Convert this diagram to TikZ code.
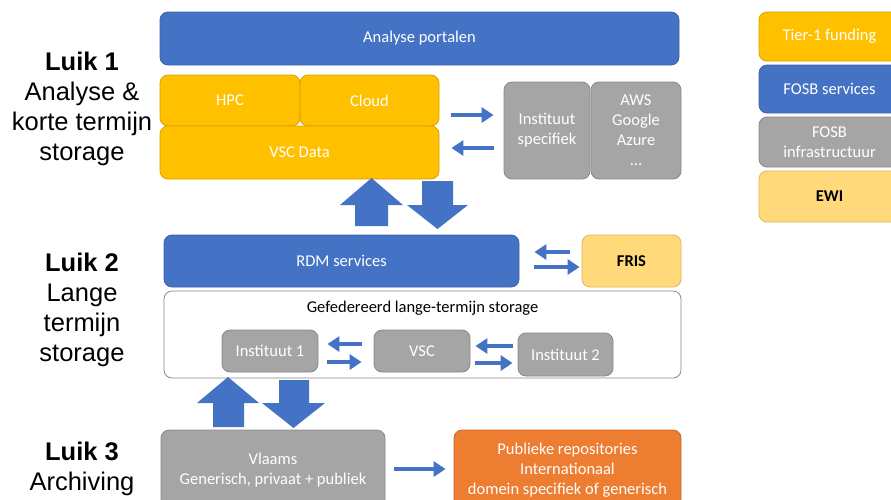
\documentclass[tikz,border=0pt]{standalone}
\usepackage{fontspec}
\setmainfont{Carlito}
\newfontfamily\luikfont{Liberation Sans}
\usetikzlibrary{arrows.meta}

\definecolor{fosbblue}{HTML}{4472C4}
\definecolor{fosbblueD}{HTML}{3A63AD}
\definecolor{tieryellow}{HTML}{FFC000}
\definecolor{tieryellowD}{HTML}{D9A300}
\definecolor{infragray}{HTML}{A5A5A5}
\definecolor{infragrayD}{HTML}{8A8A8A}
\definecolor{ewilight}{HTML}{FFD97A}
\definecolor{ewilightD}{HTML}{DDB65A}
\definecolor{repoorange}{HTML}{ED7D31}
\definecolor{repoorangeD}{HTML}{C9672A}

\tikzset{
  box/.style={rounded corners=8pt, line width=0.8pt, align=center, inner sep=0pt,
    font=\fontsize{16.5}{20}\selectfont, text=white},
  bluebox/.style={box, fill=fosbblue, draw=fosbblueD},
  yellowbox/.style={box, fill=tieryellow, draw=tieryellowD},
  graybox/.style={box, fill=infragray, draw=infragrayD},
  lightbox/.style={box, fill=ewilight, draw=ewilightD, text=black, font=\fontsize{16.5}{20}\selectfont\bfseries},
  orangebox/.style={box, fill=repoorange, draw=repoorangeD},
  groupbox/.style={box, fill=white, draw=infragrayD, text=black},
  luik/.style={align=center, inner sep=0pt, anchor=north, text=black,
    font=\luikfont\fontsize{25.5}{30}\selectfont},
  sarr/.style={draw=fosbblue, line width=4pt, -{Triangle[length=12pt,width=15pt]}},
  blockarrow/.style={fill=fosbblue},
  size/.style n args={2}{minimum width=#1pt, minimum height=#2pt}
}

\begin{document}
\begin{tikzpicture}[x=1pt,y=-1pt]
\clip (0,0) rectangle (891,499);
\fill[white] (0,0) rectangle (891,499);

% layer labels
\node[luik] (luik1) at (82,51.5) {\textbf{Luik 1}\\Analyse \&\\korte termijn\\storage};
\node[luik] (luik2) at (82,253) {\textbf{Luik 2}\\Lange\\termijn\\storage};
\node[luik] (luik3) at (82,441.5) {\textbf{Luik 3}\\Archiving};

% Luik 1: analysis and short-term storage
\node[bluebox, size={519}{53}] (portal) at (419.5,38.5) {Analyse portalen};
\node[yellowbox, size={140}{51}] (hpc) at (230,100.5) {HPC};
\node[yellowbox, size={139}{51}] (cloud) at (369.5,100.5) {Cloud};
\node[yellowbox, size={279}{53}] (vscdata) at (299.5,152.5) {VSC Data};
\node[graybox, size={86}{97}] (instspec) at (547,130.5) {\raisebox{1.5pt}{\parbox{80pt}{\centering Instituut\\specifiek}}};
\node[graybox, size={90}{97}] (public) at (636,130.5) {\raisebox{1.5pt}{\parbox{80pt}{\centering AWS\\Google\\Azure\\…}}};

\draw[sarr, shorten <=12pt, shorten >=10pt] (cloud.east |- 0,115) -- (instspec.west |- 0,115);
\draw[sarr, shorten <=10pt, shorten >=12pt] (instspec.west |- 0,148) -- (vscdata.east |- 0,148);

% block arrows between Luik 1 and Luik 2
\fill[blockarrow] (355,226) -- (355,205) -- (340,205) -- (371.5,178) -- (403,205) -- (388,205) -- (388,226) -- cycle;
\fill[blockarrow] (422,181) -- (453,181) -- (453,205) -- (468,205) -- (437.5,229) -- (407,205) -- (422,205) -- cycle;

% Luik 2: long-term storage
\node[bluebox, size={355}{52}] (rdm) at (341.5,261) {RDM services};
\node[lightbox, size={99}{52}] (fris) at (631.5,261) {FRIS};
\draw[sarr, shorten <=12pt, shorten >=15pt] (fris.west |- 0,252) -- (rdm.east |- 0,252);
\draw[sarr, shorten <=15pt, shorten >=2pt] (rdm.east |- 0,267) -- (fris.west |- 0,267);

\node[groupbox, size={517}{87}] (fed) at (422.5,334.5) {};
\node[text=black, font=\fontsize{16.5}{20}\selectfont, inner sep=0pt] (fedtitle) at (422.5,308.5) {Gefedereerd lange-termijn storage};
\node[graybox, size={96}{42}] (inst1) at (270,351) {Instituut 1};
\node[graybox, size={96}{42}] (vsc) at (422,351) {VSC};
\node[graybox, size={95}{43}] (inst2) at (565.5,354.5) {Instituut 2};

\draw[sarr, shorten <=12pt, shorten >=9pt] (vsc.west |- 0,344) -- (inst1.east |- 0,344);
\draw[sarr, shorten <=9pt, shorten >=12pt] (inst1.east |- 0,362) -- (vsc.west |- 0,362);
\draw[sarr, shorten <=5pt, shorten >=5pt] (inst2.west |- 0,346) -- (vsc.east |- 0,346);
\draw[sarr, shorten <=5pt, shorten >=5pt] (vsc.east |- 0,363) -- (inst2.west |- 0,363);

% block arrows between Luik 2 and Luik 3
\fill[blockarrow] (213,427) -- (213,403) -- (197,403) -- (228,377) -- (259,403) -- (244,403) -- (244,427) -- cycle;
\fill[blockarrow] (279,380) -- (309,380) -- (309,403) -- (325,403) -- (293.5,428) -- (262,403) -- (279,403) -- cycle;

% Luik 3: archiving
\node[graybox, size={224}{80}] (vlaams) at (273,470) {\raisebox{1.5pt}{\parbox{220pt}{\centering Vlaams\\Generisch, privaat + publiek}}};
\node[orangebox, size={227}{80}] (repos) at (567.5,470) {\raisebox{2pt}{\parbox{220pt}{\centering Publieke repositories\\Internationaal\\domein specifiek of generisch}}};
\draw[sarr, shorten <=9pt, shorten >=8pt] (vlaams.east |- 0,469) -- (repos.west |- 0,469);

% legend
\node[yellowbox, size={141}{49}] (lgtier) at (829.5,36.5) {Tier-1 funding};
\node[bluebox, size={141}{48}] (lgserv) at (829.5,89) {FOSB services};
\node[graybox, size={141}{50}] (lginfra) at (829.5,142) {FOSB\\infrastructuur};
\node[lightbox, size={141}{51}] (lgewi) at (829.5,196.5) {EWI};
\end{tikzpicture}
\end{document}
